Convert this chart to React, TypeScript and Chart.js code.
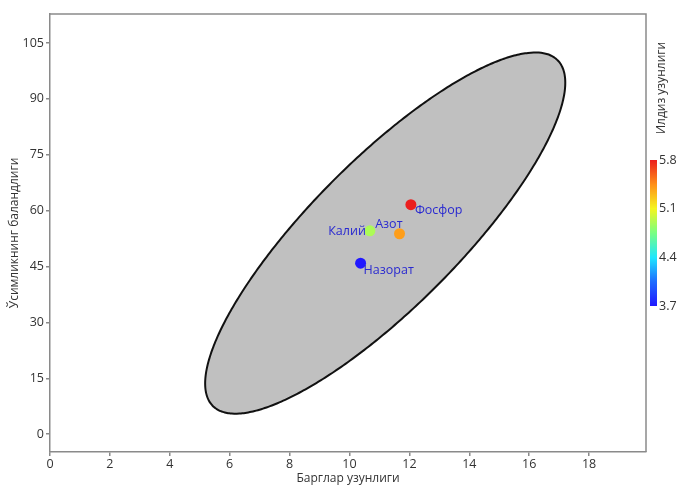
import React, { useEffect, useRef } from "react";
import { Chart, registerables } from "chart.js";

Chart.register(...registerables);

// ---- data ----
const groups = ["Назорат", "Калий", "Азот", "Фосфор"];
const leafLength = [10.37, 10.68, 11.67, 12.05]; // Барглар узунлиги
const plantHeight = [45.9, 54.6, 53.8, 61.6]; // Ўсимликнинг баландлиги
const rootLength = [3.7, 4.9, 5.4, 5.8]; // Илдиз узунлиги (colour)
const xTicks = [0, 2, 4, 6, 8, 10, 12, 14, 16, 18];
const yTicks = [0, 15, 30, 45, 60, 75, 90, 105];
const colorTicks = [3.7, 4.4, 5.1, 5.8];
const F95_2_2 = 19; // F(0.95; 2, n-2) quantile for the 95% confidence ellipse

// label placement (style)
const labelPlace = [
  { dx: 3, dy: 7, align: "left" },
  { dx: -4, dy: 1, align: "right" },
  { dx: 3, dy: -9, align: "right" },
  { dx: 4, dy: 6, align: "left" },
];

const FONT = "'Open Sans', 'DejaVu Sans', sans-serif";
const TXT = "#333333";
const AXIS = "#8a8a8a";

const cmapStops: [number, number[]][] = [
  [0, [32, 24, 255]],
  [0.17, [30, 110, 255]],
  [0.33, [30, 230, 255]],
  [0.5, [120, 255, 130]],
  [0.667, [245, 245, 30]],
  [0.83, [255, 145, 25]],
  [1, [235, 30, 30]],
];
function cmap(t: number) {
  t = Math.max(0, Math.min(1, t));
  for (let i = 1; i < cmapStops.length; i++) {
    const [t1, c1] = cmapStops[i];
    const [t0, c0] = cmapStops[i - 1];
    if (t <= t1) {
      const f = (t - t0) / (t1 - t0);
      const c = c0.map((v, k) => Math.round(v + (c1[k] - v) * f));
      return `rgb(${c[0]},${c[1]},${c[2]})`;
    }
  }
  return "rgb(235,30,30)";
}
const cMin = colorTicks[0];
const cMax = colorTicks[colorTicks.length - 1];

function confidenceEllipse(xs: number[], ys: number[]) {
  const n = xs.length;
  const mx = xs.reduce((a, b) => a + b, 0) / n;
  const my = ys.reduce((a, b) => a + b, 0) / n;
  let sxx = 0, syy = 0, sxy = 0;
  for (let i = 0; i < n; i++) {
    sxx += (xs[i] - mx) ** 2;
    syy += (ys[i] - my) ** 2;
    sxy += (xs[i] - mx) * (ys[i] - my);
  }
  const sx = Math.sqrt(sxx / (n - 1));
  const sy = Math.sqrt(syy / (n - 1));
  const r = sxy / Math.sqrt(sxx * syy);
  const k = Math.sqrt(((2 * (n - 1)) / (n - 2)) * F95_2_2);
  const pts: { x: number; y: number }[] = [];
  const N = 240;
  for (let i = 0; i <= N; i++) {
    const t = (2 * Math.PI * i) / N;
    pts.push({
      x: mx + k * sx * Math.cos(t),
      y: my + k * sy * (r * Math.cos(t) + Math.sqrt(1 - r * r) * Math.sin(t)),
    });
  }
  return pts;
}

const overlayPlugin = {
  id: "overlay",
  afterDatasetsDraw(chart: any) {
    const { ctx, chartArea, scales } = chart;
    const xs = scales.x, ys = scales.y;
    ctx.save();
    // frame top/right
    ctx.strokeStyle = AXIS;
    ctx.lineWidth = 1.5;
    ctx.beginPath();
    ctx.moveTo(chartArea.left, chartArea.top);
    ctx.lineTo(chartArea.right, chartArea.top);
    ctx.lineTo(chartArea.right, chartArea.bottom);
    ctx.stroke();

    // point labels
    ctx.font = `12.5px ${FONT}`;
    ctx.fillStyle = "#2a2ad0";
    ctx.textBaseline = "middle";
    groups.forEach((g, i) => {
      const p = labelPlace[i];
      const px = xs.getPixelForValue(leafLength[i]);
      const py = ys.getPixelForValue(plantHeight[i]);
      ctx.textAlign = p.align as CanvasTextAlign;
      ctx.fillText(g, px + p.dx, py + p.dy);
    });

    // colour bar
    const barL = chartArea.right + 4;
    const barW = 7;
    const barTop = 160;
    const barBot = 306;
    const vToY = (v: number) => barBot - ((v - cMin) / (cMax - cMin)) * (barBot - barTop);
    for (let y = barTop; y < barBot; y++) {
      const t = (barBot - (y + 0.5)) / (barBot - barTop);
      ctx.fillStyle = cmap(t);
      ctx.fillRect(barL, y, barW, 1);
    }
    ctx.fillStyle = TXT;
    ctx.font = `12.5px ${FONT}`;
    ctx.textAlign = "left";
    ctx.textBaseline = "middle";
    colorTicks.forEach((v) => {
      ctx.fillText(v.toFixed(1), barL + barW + 2, vToY(v));
    });
    ctx.save();
    ctx.translate(662, 88);
    ctx.rotate(-Math.PI / 2);
    ctx.textAlign = "center";
    ctx.textBaseline = "middle";
    ctx.font = `12px ${FONT}`;
    ctx.fillText("Илдиз узунлиги", 0, 0);
    ctx.restore();
    ctx.restore();
  },
};

export default function App() {
  const ref = useRef<HTMLCanvasElement>(null);
  useEffect(() => {
    document.body.style.margin = "0";
    const ellipse = confidenceEllipse(leafLength, plantHeight);
    const points = leafLength.map((x, i) => ({ x, y: plantHeight[i] }));
    const colors = rootLength.map((v) => cmap((v - cMin) / (cMax - cMin)));
    const tickFont = { family: FONT, size: 12.5 };
    const chart = new Chart(ref.current!, {
      type: "scatter",
      data: {
        datasets: [
          {
            type: "line",
            data: ellipse,
            showLine: true,
            fill: "shape",
            backgroundColor: "#c0c0c0",
            borderColor: "#111111",
            borderWidth: 2,
            pointRadius: 0,
            tension: 0.2,
            order: 2,
          } as any,
          {
            data: points,
            pointRadius: 5.5,
            pointBackgroundColor: colors,
            pointBorderWidth: 0,
            backgroundColor: colors,
            borderColor: colors,
            order: 1,
          },
        ],
      },
      plugins: [overlayPlugin],
      options: {
        responsive: false,
        animation: false,
        events: [],
        layout: { padding: { top: 14, right: 32, left: 0, bottom: 0 } },
        plugins: { legend: { display: false }, tooltip: { enabled: false } },
        scales: {
          x: {
            type: "linear",
            min: 0,
            max: 19.9,
            afterBuildTicks: (s: any) => {
              s.ticks = xTicks.map((v) => ({ value: v }));
            },
            afterFit: (s: any) => {
              s.height = 34;
            },
            grid: { drawOnChartArea: false, drawTicks: true, tickLength: 4, color: AXIS, lineWidth: 1.5 },
            border: { color: AXIS, width: 1.5 },
            ticks: { font: tickFont, color: TXT, padding: 1, maxRotation: 0 },
            title: { display: true, text: "Барглар узунлиги", font: { family: FONT, size: 12 }, color: TXT, padding: 0 },
          },
          y: {
            type: "linear",
            min: -4.8,
            max: 112.8,
            afterBuildTicks: (s: any) => {
              s.ticks = yTicks.map((v) => ({ value: v }));
            },
            afterFit: (s: any) => {
              s.width = 50;
            },
            grid: { drawOnChartArea: false, drawTicks: true, tickLength: 4, color: AXIS, lineWidth: 1.5 },
            border: { color: AXIS, width: 1.5 },
            ticks: { font: tickFont, color: TXT, padding: 2 },
            title: {
              display: true,
              text: "Ўсимликнинг баландлиги",
              font: { family: FONT, size: 12 },
              color: TXT,
              padding: { top: 7, bottom: 0 },
            },
          },
        },
      },
    });
    return () => chart.destroy();
  }, []);
  return <canvas ref={ref} width={678} height={486} />;
}
